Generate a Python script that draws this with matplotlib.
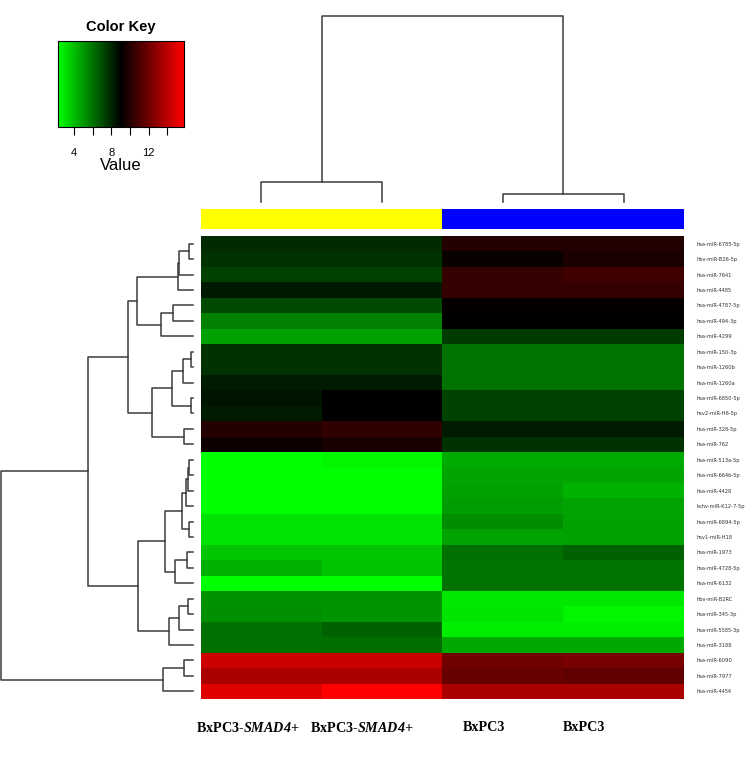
import numpy as np
import matplotlib
matplotlib.use("Agg")
import matplotlib.pyplot as plt
from matplotlib.colors import LinearSegmentedColormap

# row labels, top to bottom (dendrogram order)
mirnas = [
    "hsa-miR-6785-5p", "hbv-miR-B26-5p", "hsa-miR-7641", "hsa-miR-4485",
    "hsa-miR-4787-5p", "hsa-miR-494-3p", "hsa-miR-4299", "hsa-miR-150-3p",
    "hsa-miR-1260b", "hsa-miR-1260a", "hsa-miR-6850-5p", "hsv2-miR-H6-5p",
    "hsa-miR-328-5p", "hsa-miR-762", "hsa-miR-513a-5p", "hsa-miR-664b-5p",
    "hsa-miR-4428", "kshv-miR-K12-7-5p", "hsa-miR-6894-5p", "hsv1-miR-H18",
    "hsa-miR-1973", "hsa-miR-4728-5p", "hsa-miR-6132", "hbv-miR-B2RC",
    "hsa-miR-345-3p", "hsa-miR-5585-3p", "hsa-miR-3188", "hsa-miR-6090",
    "hsa-miR-7977", "hsa-miR-4454",
]
samples = ["BxPC3-$SMAD4$+", "BxPC3-$SMAD4$+", "BxPC3", "BxPC3"]
group_colors = ["#ffff00", "#ffff00", "#0000ff", "#0000ff"]

# expression values per sample
smad4_a = [7.94, 7.78, 7.36, 8.41, 7.14, 5.66, 4.81, 7.78, 7.78, 8.36,
           8.49, 8.36, 10.03, 9.47, 2.30, 2.30, 2.30, 2.30, 3.07, 3.07,
           3.86, 4.39, 2.30, 5.24, 5.26, 6.09, 6.09, 14.45, 13.55, 14.98]
smad4_b = [7.94, 7.78, 7.36, 8.41, 7.14, 5.66, 4.81, 7.75, 7.75, 8.36,
           9.05, 9.00, 10.32, 9.69, 2.56, 2.30, 2.30, 2.30, 3.07, 3.07,
           3.86, 3.91, 2.30, 5.24, 5.11, 6.51, 6.19, 14.34, 13.55, 15.80]
bxpc3_a = [10.00, 9.31, 10.45, 10.45, 9.18, 9.05, 7.51, 6.03, 6.03, 6.03,
           7.30, 7.30, 8.36, 7.78, 4.55, 4.68, 4.81, 4.89, 5.34, 4.76,
           6.09, 5.95, 6.03, 2.96, 2.99, 2.75, 4.60, 12.01, 11.80, 13.55]
bxpc3_b = [9.90, 9.74, 10.74, 10.45, 9.18, 9.05, 7.51, 6.03, 6.03, 6.03,
           7.30, 7.30, 8.36, 7.78, 4.55, 4.68, 4.34, 4.76, 4.81, 4.81,
           6.51, 5.95, 6.03, 2.96, 2.56, 2.75, 4.60, 12.23, 11.59, 13.55]

# linkage: (child a, child b, height); leaves 0..n-1, merge k -> n + k
row_merges = [
    (0, 1, 3.7), (30, 2, 13.7), (31, 3, 14.7), (4, 5, 19.7), (33, 6, 32.3),
    (32, 34, 55.7), (7, 8, 2.0), (36, 9, 10.3), (10, 11, 2.0), (37, 38, 20.7),
    (12, 13, 8.7), (39, 40, 41.3), (35, 41, 64.7), (14, 15, 3.7), (43, 16, 4.7),
    (44, 17, 7.0), (18, 19, 3.7), (45, 46, 11.3), (20, 21, 6.0), (48, 22, 18.0),
    (47, 49, 28.0), (23, 24, 4.7), (51, 25, 14.0), (52, 26, 24.0), (50, 53, 54.7),
    (42, 54, 105.3), (27, 28, 8.7), (56, 29, 29.7), (55, 57, 192.0),
]
col_merges = [(0, 1, 20.0), (2, 3, 8.0), (4, 5, 186.0)]

key_ticks = [4, 6, 8, 10, 12, 14]
key_labels = ["4", "", "8", "", "12", ""]
vmin, vmax = 2.3, 15.8

plt.rcParams["mathtext.fontset"] = "custom"
plt.rcParams["mathtext.it"] = "Liberation Serif:bold:italic"
plt.rcParams["mathtext.rm"] = "Liberation Serif:bold:italic"

data = np.column_stack([smad4_a, smad4_b, bxpc3_a, bxpc3_b])
n_rows, n_cols = data.shape
cmap = LinearSegmentedColormap.from_list("gkr", ["#00ff00", "#000000", "#ff0000"])

W, H = 756, 772
fig = plt.figure(figsize=(W / 100, H / 100), dpi=100)


def px_axes(x0, y0, x1, y1):
    return fig.add_axes([x0 / W, 1 - y1 / H, (x1 - x0) / W, (y1 - y0) / H])


def draw_dendro(ax, merges, n, side):
    pos = {i: (i + 0.5, 0.0) for i in range(n)}
    for k, (a, b, h) in enumerate(merges):
        pa, ha = pos[a]
        pb, hb = pos[b]
        xs = [pa, pa, pb, pb]
        ys = [ha, h, h, hb]
        if side == "top":
            ax.plot(xs, ys, color="#3c3c3c", lw=1.1, clip_on=False)
        else:
            ax.plot(ys, xs, color="#3c3c3c", lw=1.1, clip_on=False)
        pos[n + k] = ((pa + pb) / 2, h)
    ax.axis("off")


# heatmap
ax = px_axes(201, 236, 684, 699)
ax.pcolormesh(np.arange(n_cols + 1), np.arange(n_rows + 1), data,
              cmap=cmap, vmin=vmin, vmax=vmax)
ax.set_xlim(0, n_cols)
ax.set_ylim(n_rows, 0)
ax.yaxis.tick_right()
ax.set_yticks(np.arange(n_rows) + 0.5)
ax.set_yticklabels(mirnas, fontsize=3.7, color="#333333")
ax.tick_params(axis="y", length=0, pad=9)
ax.set_xticks([])
for s in ax.spines.values():
    s.set_visible(False)

label_x = [0.39, 1.33, 2.34, 3.17]
for x, lab in zip(label_x, samples):
    ax.text(x, n_rows + 1.85, lab, ha="center", va="center",
            fontsize=10.2, fontweight="bold", family="Liberation Serif")

# column side colours
axc = px_axes(201, 209, 684, 229)
for i, c in enumerate(group_colors):
    axc.axvspan(i, i + 1, color=c, lw=0)
axc.set_xlim(0, n_cols)
axc.axis("off")

# dendrograms
axt = px_axes(201, 16, 684, 202)
draw_dendro(axt, col_merges, n_cols, "top")
axt.set_xlim(0, n_cols)
axt.set_ylim(0, col_merges[-1][2])

axl = px_axes(1, 236, 193, 699)
draw_dendro(axl, row_merges, n_rows, "left")
axl.set_ylim(n_rows, 0)
axl.set_xlim(row_merges[-1][2], 0)

# colour key
axk = px_axes(58, 41, 184, 127)
grad = np.linspace(vmin, vmax, 256)[None, :]
axk.imshow(grad, cmap=cmap, vmin=vmin, vmax=vmax, aspect="auto",
           extent=[vmin, vmax, 0, 1])
axk.set_xlim(vmin, vmax)
axk.set_yticks([])
axk.set_xticks(key_ticks)
axk.set_xticklabels(key_labels, fontsize=8, family="Liberation Sans")
axk.tick_params(axis="x", length=6, width=0.8, pad=9)
for s in axk.spines.values():
    s.set_linewidth(0.8)
axk.set_title("Color Key", fontsize=10.5, fontweight="bold",
              family="Liberation Sans", pad=7)
axk.set_xlabel("Value", fontsize=12, family="Liberation Sans", labelpad=0)

fig.savefig("out.png", dpi=100)
